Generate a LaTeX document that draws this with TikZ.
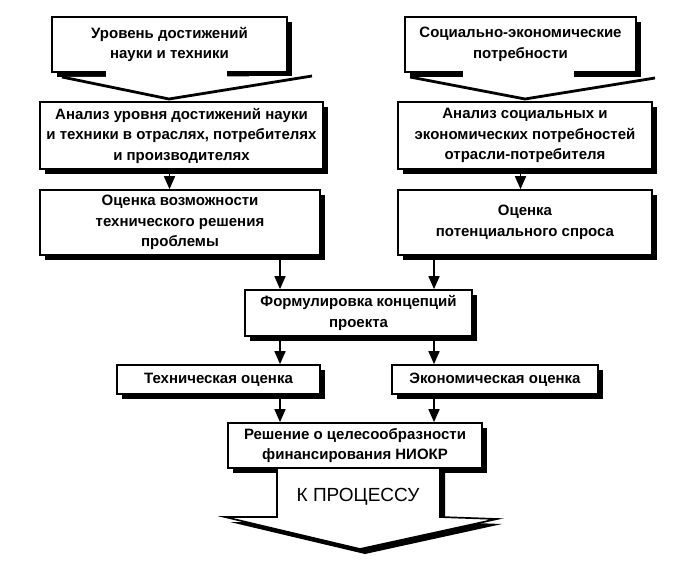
\documentclass[tikz,border=0pt]{standalone}
\usepackage{fontspec}
\setmainfont{Liberation Sans}
\usetikzlibrary{arrows.meta, positioning, shadows, calc}

\begin{document}
\begin{tikzpicture}[
    x=1pt, y=-1pt,
    box/.style={draw, fill=white, line width=1.7pt, align=center, inner sep=0pt, font=\bfseries\fontsize{15}{20.5}\selectfont, drop shadow={shadow xshift=5pt, shadow yshift=-5pt, fill=black, opacity=1}},
    arrow/.style={-{Triangle[length=13pt, width=11pt]}, line width=1.7pt},
    wedge/.style={line width=2.8pt, line join=miter}
]
    \useasboundingbox (0,0) rectangle (688,567);

    % Top block arrows
    \node[box, minimum width=235pt, minimum height=55pt] (lev) at (169.5,44.5) {Уровень достижений\\науки и техники};
    \fill[white] (106,68) rectangle (227,82);
    \fill[white] (62,77) -- (169,99) -- (312,76) -- cycle;
    \draw[wedge] (62,77) -- (169,99) -- (312,76);

    \node[box, minimum width=231pt, minimum height=55pt] (soc) at (520.5,44.5) {Социально-экономические\\потребности};
    \fill[white] (463,68) rectangle (574,82);
    \fill[white] (410,77) -- (525,99) -- (655,78) -- cycle;
    \draw[wedge] (410,77) -- (525,99) -- (655,78);

    % Analysis nodes
    \node[box, minimum width=283pt, minimum height=67pt] (anl) at (181.5,135.5) {Анализ уровня достижений науки\\и техники в отраслях, потребителях\\и производителях};
    \node[box, minimum width=254pt, minimum height=67pt] (ans) at (525,135.5) {Анализ социальных и\\экономических потребностей\\отрасли-потребителя};

    % Estimate nodes
    \node[box, minimum width=280pt, minimum height=65pt] (ocv) at (180,222.5) {Оценка возможности\\технического решения\\проблемы};
    \node[box, minimum width=254pt, minimum height=65pt] (ocs) at (525,222.5) {Оценка\\потенциального спроса};

    % Concept and evaluations
    \node[box, minimum width=227pt, minimum height=46pt] (form) at (358.5,313) {Формулировка концепций\\проекта};
    \node[box, minimum width=203pt, minimum height=29pt] (tech) at (218.5,379.5) {Техническая оценка};
    \node[box, minimum width=206pt, minimum height=29pt] (econ) at (495,379.5) {Экономическая оценка};
    \node[box, minimum width=254pt, minimum height=45pt] (dec) at (355,445.5) {Решение о целесообразности\\финансирования НИОКР};

    % Output block arrow
    \draw[line width=1.7pt, fill=white, line join=miter, drop shadow={shadow xshift=5pt, shadow yshift=-5pt, fill=black, opacity=1}]
        (277,468) -- (277,517) -- (225,517) -- (360,549) -- (497,519) -- (440,517) -- (440,468) -- cycle;
    \node[font=\fontsize{19}{22}\selectfont] (proc) at (358,497) {К ПРОЦЕССУ};

    % Arrows
    \coordinate (xl) at (280,0);
    \coordinate (xr) at (434,0);
    \draw[arrow] (anl.south -| lev) -- (ocv.north -| lev);
    \draw[arrow] (ans.south -| soc) -- (ocs.north -| soc);
    \draw[arrow] (ocv.south -| xl) -- (form.north -| xl);
    \draw[arrow] (ocs.south -| xr) -- (form.north -| xr);
    \draw[arrow] (form.south -| xl) -- (tech.north -| xl);
    \draw[arrow] (form.south -| xr) -- (econ.north -| xr);
    \draw[arrow] (tech.south -| xl) -- (dec.north -| xl);
    \draw[arrow] (econ.south -| xr) -- (dec.north -| xr);
\end{tikzpicture}
\end{document}
